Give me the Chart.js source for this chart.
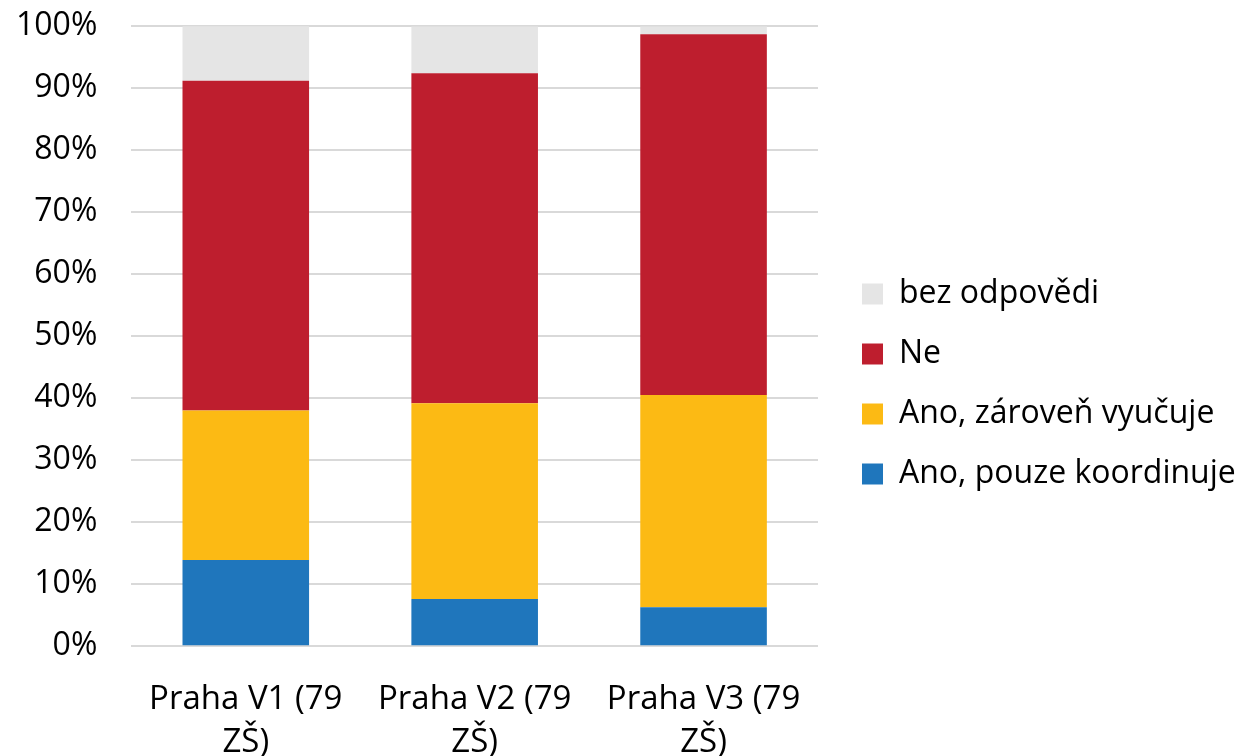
<!DOCTYPE html>
<html>
<head>
<meta charset="utf-8">
<script src="https://cdn.jsdelivr.net/npm/chart.js@4"></script>
<style>
  html, body { margin: 0; padding: 0; background: #fff; }
  #wrap { width: 1245px; height: 756px; }
</style>
</head>
<body>
<div id="wrap"><canvas id="chart" width="1245" height="756"></canvas></div>
<script>
const categories = [["Praha V1 (79", "ZŠ)"], ["Praha V2 (79", "ZŠ)"], ["Praha V3 (79", "ZŠ)"]];
const pouzeKoordinuje = [13.9, 7.6, 6.3];
const zarovenVyucuje = [24.1, 31.6, 34.2];
const ne = [53.2, 53.2, 58.2];
const bezOdpovedi = [8.9, 7.6, 1.3];
const yTicks = [0, 10, 20, 30, 40, 50, 60, 70, 80, 90, 100];

const FONT = "'Open Sans', 'Liberation Sans', sans-serif";

// legend takes a fixed width and its items sit a bit right of the plot, like the original
const legendGap = {
  id: "legendGap",
  beforeLayout(chart) {
    const lg = chart.legend;
    if (lg && !lg._gapPatched) {
      const fit = lg.fit;
      lg.fit = function () { fit.call(this); this.width = 427; };
      lg._gapPatched = true;
    }
  },
  afterLayout(chart) {
    const lg = chart.legend;
    if (lg) {
      lg.left += 16; lg.right += 16;
      lg.top -= 10; lg.bottom -= 10;
    }
  }
};

new Chart(document.getElementById("chart"), {
  type: "bar",
  data: {
    labels: categories,
    datasets: [
      { label: "Ano, pouze koordinuje", data: pouzeKoordinuje, backgroundColor: "#1F76BC" },
      { label: "Ano, zároveň vyučuje", data: zarovenVyucuje, backgroundColor: "#FCBA14" },
      { label: "Ne", data: ne, backgroundColor: "#BE1E2E" },
      { label: "bez odpovědi", data: bezOdpovedi, backgroundColor: "#E5E5E5" }
    ]
  },
  options: {
    responsive: false,
    animation: false,
    layout: { padding: { left: 9, top: 0, right: 0, bottom: -32 } },
    datasets: { bar: { categoryPercentage: 1, barPercentage: 0.553, borderWidth: 0 } },
    scales: {
      x: {
        stacked: true,
        grid: { display: false },
        border: { display: false },
        ticks: { color: "#000", padding: 24, maxRotation: 0, font: { family: FONT, size: 33, lineHeight: 1.3 } }
      },
      y: {
        stacked: true,
        min: 0,
        max: 100,
        afterBuildTicks(axis) { axis.ticks = yTicks.map(v => ({ value: v })); },
        grid: { color: "#D9D9D9", lineWidth: 2, drawTicks: true, tickLength: 27, tickColor: "rgba(0,0,0,0)" },
        border: { display: false },
        ticks: { color: "#000", padding: 7, callback: v => v + "%", font: { family: FONT, size: 32 } }
      }
    },
    plugins: {
      tooltip: { enabled: false },
      legend: {
        position: "right",
        reverse: true,
        maxWidth: 600,
        labels: {
          color: "#000",
          boxWidth: 21,
          boxHeight: 21,
          padding: 28,
          font: { family: FONT, size: 32 }
        }
      }
    }
  },
  plugins: [legendGap]
});
</script>
</body>
</html>
